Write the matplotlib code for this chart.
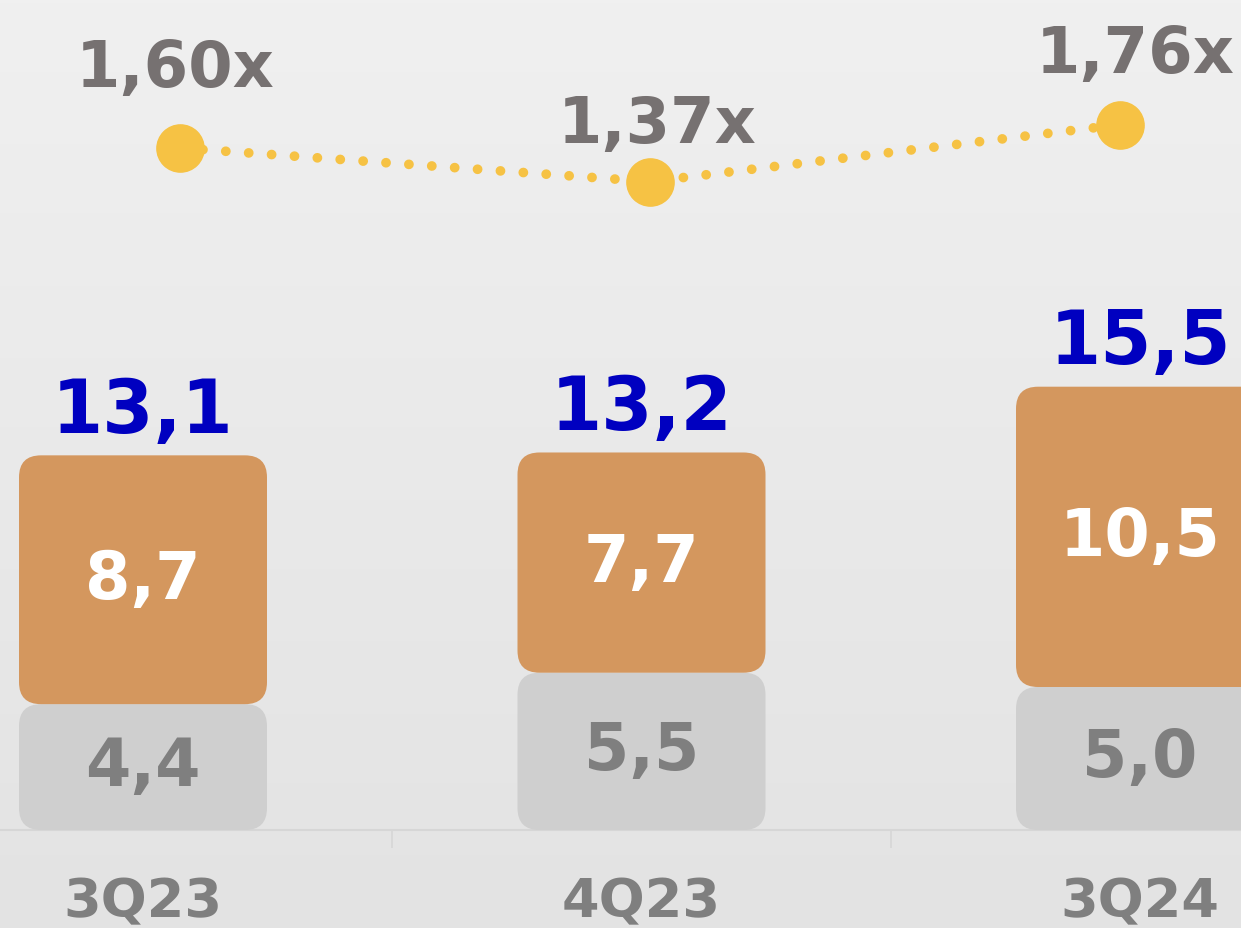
import numpy as np
import matplotlib
matplotlib.use("Agg")
import matplotlib.pyplot as plt
from matplotlib.patches import FancyBboxPatch
from matplotlib.colors import LinearSegmentedColormap

# ---- data ----
categories = ["3Q23", "4Q23", "3Q24"]
grey_vals = [4.4, 5.5, 5.0]
orange_vals = [8.7, 7.7, 10.5]
totals = [13.1, 13.2, 15.5]
ratios = [1.60, 1.37, 1.76]
ratio_labels = ["1,60x", "1,37x", "1,76x"]

def fmt(v):
    return f"{v:.1f}".replace(".", ",")

W, H, DPI = 1241, 929, 100
fig = plt.figure(figsize=(W / DPI, H / DPI), dpi=DPI)

# background gradient
bg = fig.add_axes([0, 0, 1, 1], zorder=-10)
grad = np.linspace(0, 1, 256).reshape(-1, 1)
cmap = LinearSegmentedColormap.from_list("bg", ["#F0F0F0", "#E3E3E3"])
bg.imshow(grad, aspect="auto", cmap=cmap, extent=[0, 1, 0, 1], origin="upper")
bg.set_axis_off()

# main bar axes (geometry in pixels -> data scales)
xpx = 498.5   # px per category
ypx = 28.6    # px per unit
x0px = 143.0  # first category center
base_px = 929 - 831
ax = fig.add_axes([0, 0, 1, 1])
ax.set_xlim(-x0px / xpx, (W - x0px) / xpx)
ax.set_ylim(-base_px / ypx, (H - base_px) / ypx)
ax.patch.set_alpha(0)
ax.set_axis_off()

xs = np.arange(len(categories))
bw = 248 / xpx
rs = 22 / xpx
asp = xpx / ypx

for i, x in enumerate(xs):
    g = FancyBboxPatch((x - bw / 2, 0), bw, grey_vals[i],
                       boxstyle=f"round,pad=0,rounding_size={rs}",
                       mutation_aspect=asp, fc="#CFCFCF", ec="none", zorder=2)
    ax.add_patch(g)
    o = FancyBboxPatch((x - bw / 2, grey_vals[i]), bw, orange_vals[i],
                       boxstyle=f"round,pad=0,rounding_size={rs}",
                       mutation_aspect=asp, fc="#D4975E", ec="none", zorder=3)
    ax.add_patch(o)
    ax.text(x, grey_vals[i] / 2, fmt(grey_vals[i]), ha="center", va="center",
            fontsize=47, fontweight="bold", color="#7F7F7F", zorder=5)
    ax.text(x, grey_vals[i] + orange_vals[i] / 2, fmt(orange_vals[i]),
            ha="center", va="center", fontsize=47, fontweight="bold",
            color="white", zorder=5)
    ax.annotate(fmt(totals[i]), (x, totals[i]), xytext=(0, 17),
                textcoords="offset points", ha="center", va="baseline",
                fontsize=53, fontweight="bold", color="#0000C0", zorder=5)
    ax.annotate(categories[i], (x, 0), xytext=(0, -62),
                textcoords="offset points", ha="center", va="baseline",
                fontsize=39, fontweight="bold", color="#7F7F7F", zorder=5)

# axis baseline and ticks between categories
ax.axhline(0, color="#D6D6D6", lw=1.5, zorder=1)
tick_pos = xs[:-1] + 0.5
ax.vlines(tick_pos, 0, -18 / ypx, color="#D6D6D6", lw=1.2, zorder=1)

# ratio line axes
rxpx = 470.0
rx0 = 180.0
rypx = 146.0
r0_px = 929 - 149
ax2 = fig.add_axes([0, 0, 1, 1])
ax2.set_xlim(-rx0 / rxpx, (W - rx0) / rxpx)
ax2.set_ylim(ratios[0] - r0_px / rypx, ratios[0] + (H - r0_px) / rypx)
ax2.set_axis_off()
ax2.patch.set_alpha(0)
ax2.plot(xs, ratios, color="#F6C244", lw=7, linestyle=(0, (0.01, 2.35)),
         dash_capstyle="round", zorder=3)
ax2.plot(xs, ratios, "o", color="#F6C244", markersize=34, zorder=4)
lab_off = [(-3.6, 44.6), (5, 28.8), (10.8, 38)]
for i, x in enumerate(xs):
    ax2.annotate(ratio_labels[i], (x, ratios[i]), xytext=lab_off[i],
                 textcoords="offset points", ha="center", va="baseline",
                 fontsize=46, fontweight="bold", color="#767171")

fig.savefig("out.png", dpi=DPI)
